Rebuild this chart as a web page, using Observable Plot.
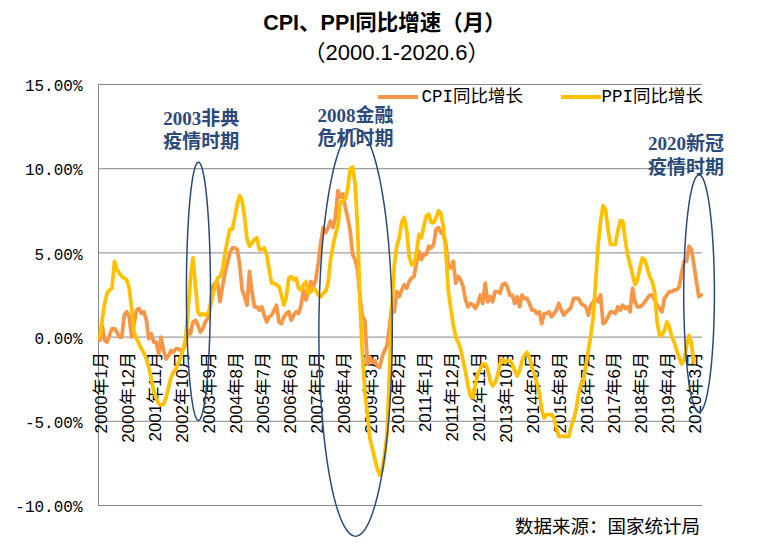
<!DOCTYPE html>
<html><head><meta charset="utf-8">
<script src="https://cdn.jsdelivr.net/npm/d3@7"></script>
<script src="https://cdn.jsdelivr.net/npm/@observablehq/plot@0.6"></script>
<style>
body{margin:0;background:#fff;}
#wrap{position:relative;width:769px;height:548px;overflow:hidden;background:#fff;font-family:"Liberation Sans","Noto Sans CJK SC",sans-serif;color:#000;}
#chart{position:absolute;left:0;top:0;}
.abs{position:absolute;white-space:nowrap;}
#title{left:0;width:769px;text-align:center;top:9px;font-size:21.5px;font-weight:bold;line-height:28px;}
#subtitle{left:12px;width:769px;text-align:center;top:39px;font-size:22px;line-height:28px;}
.leg-line{position:absolute;height:0;border-top:4px solid;}
.leg-text{font-family:"Liberation Mono","Noto Sans CJK SC",monospace;font-size:17.5px;line-height:22px;}
#source{left:515px;top:513px;font-family:"Noto Sans CJK SC",sans-serif;font-size:18.5px;line-height:24px;}
</style></head>
<body><div id="wrap">
<div id="chart"></div>
<div id="title" class="abs">CPI、PPI同比增速（月）</div>
<div id="subtitle" class="abs">（2000.1-2020.6）</div>
<div id="legend"></div>
<div id="source" class="abs">数据来源：国家统计局</div>
</div>
<script>
// CPI year-on-year, monthly, 2000.1 - 2020.6 (%)
const cpi = [
 -0.2, 0.7,-0.2,-0.3, 0.1, 0.5, 0.5, 0.3, 0.0, 0.0, 1.3, 1.5,
  1.2, 0.0, 0.8, 1.6, 1.7, 1.4, 1.5, 1.0,-0.1, 0.2,-0.3,-0.3,
 -1.0, 0.0,-0.8,-1.3,-1.1,-0.8,-0.9,-0.7,-0.7,-0.8,-0.7,-0.4,
  0.4, 0.2, 0.9, 1.0, 0.7, 0.3, 0.5, 0.9, 1.1, 1.8, 3.0, 3.2,
  3.2, 2.1, 3.0, 3.8, 4.4, 5.0, 5.3, 5.3, 5.2, 4.3, 2.8, 2.4,
  1.9, 3.9, 2.7, 1.8, 1.8, 1.6, 1.8, 1.3, 0.9, 1.2, 1.3, 1.6,
  1.9, 0.9, 0.8, 1.2, 1.4, 1.5, 1.0, 1.3, 1.5, 1.4, 1.9, 2.8,
  2.2, 2.7, 3.3, 3.0, 3.4, 4.4, 5.6, 6.5, 6.2, 6.5, 6.9, 6.5,
  7.1, 8.7, 8.3, 8.5, 7.7, 7.1, 6.3, 4.9, 4.6, 4.0, 2.4, 1.2,
  1.0,-1.6,-1.2,-1.5,-1.4,-1.7,-1.8,-1.2,-0.8,-0.5, 0.6, 1.9,
  1.5, 2.7, 2.4, 2.8, 3.1, 2.9, 3.3, 3.5, 3.6, 4.4, 5.1, 4.6,
  4.9, 4.9, 5.4, 5.3, 5.5, 6.4, 6.5, 6.2, 6.1, 5.5, 4.2, 4.1,
  4.5, 3.2, 3.6, 3.4, 3.0, 2.2, 1.8, 2.0, 1.9, 1.7, 2.0, 2.5,
  2.0, 3.2, 2.1, 2.4, 2.1, 2.7, 2.7, 2.6, 3.1, 3.2, 3.0, 2.5,
  2.5, 2.0, 2.4, 1.8, 2.5, 2.3, 2.3, 2.0, 1.6, 1.6, 1.4, 1.5,
  0.8, 1.4, 1.4, 1.5, 1.2, 1.4, 1.6, 2.0, 1.6, 1.3, 1.5, 1.6,
  1.8, 2.3, 2.3, 2.3, 2.0, 1.9, 1.8, 1.3, 1.9, 2.1, 2.3, 2.1,
  2.5, 0.8, 0.9, 1.2, 1.5, 1.5, 1.4, 1.8, 1.6, 1.9, 1.7, 1.8,
  1.5, 2.9, 2.1, 1.8, 1.8, 1.9, 2.1, 2.3, 2.5, 2.5, 2.2, 1.9,
  1.7, 1.5, 2.3, 2.5, 2.7, 2.7, 2.8, 2.8, 3.0, 3.8, 4.5, 4.5,
  5.4, 5.2, 4.3, 3.3, 2.4, 2.5
];
// PPI year-on-year, monthly, 2000.1 - 2020.3 (%)
const ppi = [
  0.0, 1.0, 2.0, 2.6, 2.8, 2.9, 4.5, 4.0, 3.8, 3.6, 3.5, 3.4,
  2.9, 1.7, 0.3,-0.1,-0.4,-0.7,-0.95,-1.3,-1.8,-2.5,-3.2,-3.6,
 -3.95,-4.05,-4.0,-3.6,-3.0,-2.4,-2.1,-1.9,-1.55,-1.2,-0.7,-0.1,
  1.6, 3.6, 4.7, 3.0, 1.5, 1.3, 1.4, 1.3, 1.4, 1.8, 2.5, 3.0,
  3.5, 3.6, 4.0, 5.0, 5.7, 6.4, 6.4, 7.1, 7.9, 8.4, 8.1, 7.1,
  5.8, 5.4, 5.6, 5.8, 5.9, 5.2, 5.2, 5.3, 4.9, 4.0, 3.2, 3.2,
  3.1, 3.0, 2.5, 1.9, 2.4, 3.5, 3.6, 3.4, 3.5, 2.9, 2.8, 3.1,
  3.3, 2.6, 2.7, 2.9, 2.8, 2.5, 2.4, 2.6, 2.7, 3.2, 4.6, 5.4,
  6.1, 6.6, 8.0, 8.1, 8.2, 8.8,10.0,10.1, 9.1, 6.6, 2.0,-1.1,
 -3.3,-4.5,-6.0,-6.6,-7.2,-7.8,-8.2,-7.9,-7.0,-5.8,-2.1, 1.7,
  4.3, 5.4, 5.9, 6.8, 7.1, 6.4, 4.8, 4.3, 4.3, 5.0, 6.1, 5.9,
  6.6, 7.2, 7.3, 6.8, 6.8, 7.1, 7.5, 7.3, 6.5, 5.0, 2.7, 1.7,
  0.7, 0.0,-0.3,-0.7,-1.4,-2.1,-2.9,-3.5,-3.6,-2.8,-2.2,-1.9,
 -1.6,-1.6,-1.9,-2.6,-2.9,-2.7,-2.3,-1.6,-1.3,-1.5,-1.4,-1.4,
 -1.6,-2.0,-2.3,-2.0,-1.4,-1.1,-0.9,-1.2,-1.8,-2.2,-2.7,-3.3,
 -4.3,-4.8,-4.6,-4.6,-4.6,-4.8,-5.4,-5.9,-5.9,-5.9,-5.9,-5.9,
 -5.3,-4.9,-4.3,-3.4,-2.8,-2.6,-1.7,-0.8, 0.1, 1.2, 3.3, 5.5,
  6.9, 7.8, 7.6, 6.4, 5.5, 5.5, 5.5, 6.3, 6.9, 6.9, 5.8, 4.9,
  4.3, 3.7, 3.1, 3.4, 4.1, 4.7, 4.6, 4.1, 3.6, 3.3, 2.7, 0.9,
  0.1, 0.1, 0.4, 0.9, 0.6, 0.0,-0.3,-0.8,-1.2,-1.6,-1.4,-0.5,
  0.1,-0.4,-1.5
];
const seriesNames = ["CPI同比增长", "PPI同比增长"];
const seriesColors = ["#F79646", "#FFC000"];
const yTicks = [-10, -5, 0, 5, 10, 15];
const xTickLabels = ["2000年1月","2000年12月","2001年11月","2002年10月","2003年9月","2004年8月","2005年7月","2006年6月","2007年5月","2008年4月","2009年3月","2010年2月","2011年1月","2011年12月","2012年11月","2013年10月","2014年9月","2015年8月","2016年7月","2017年6月","2018年5月","2019年4月","2020年3月"];
// annotations (month index from 2000.1, value in %)
const annotTexts = ["2003非典\n疫情时期", "2008金融\n危机时期", "2020新冠\n疫情时期"];
const annotMonth = [41.3, 104.2, 238.8];
const annotValue = [12.37, 12.55, 10.85];
const ellipseMonth = [40.2, 104.2, 244.1];
const ellipseValue = [2.72, 0.28, 2.59];
const ellipseHalfMonths = [4.9, 14.95, 6.25];
const ellipseHalfValue = [7.67, 12.1, 7.05];

const nMonths = cpi.length;
const rows = [
  ...cpi.map((v, i) => ({i, v, s: seriesNames[0]})),
  ...ppi.map((v, i) => ({i, v, s: seriesNames[1]}))
];
const ticks = xTickLabels.map(t => {
  const m = t.match(/(\d+)年(\d+)月/);
  return {i: (+m[1] - 2000) * 12 + (+m[2] - 1), label: t};
});
const ellipsePts = [];
ellipseMonth.forEach((cx, k) => {
  for (let j = 0; j <= 120; j++) {
    const t = j / 120 * 2 * Math.PI;
    ellipsePts.push({k, x: cx + ellipseHalfMonths[k] * Math.cos(t), y: ellipseValue[k] + ellipseHalfValue[k] * Math.sin(t)});
  }
});
const annots = annotTexts.map((t, k) => ({t, x: annotMonth[k], y: annotValue[k]}));

const navy = "#2B4A7C";
const chart = Plot.plot({
  width: 769, height: 548,
  marginLeft: 98, marginRight: 67, marginTop: 84, marginBottom: 43,
  x: {domain: [-0.5, nMonths - 0.5], axis: null},
  y: {domain: [-10, 15]},
  style: {background: "transparent", overflow: "visible"},
  marks: [
    Plot.ruleY(yTicks, {stroke: "#878787", strokeWidth: 1}),
    Plot.ruleX([-0.5], {y1: -10, y2: 15, stroke: "#878787", strokeWidth: 1}),
    Plot.axisY({ticks: yTicks, tickSize: 0, tickPadding: 16, label: null,
      tickFormat: d => d.toFixed(2) + "%", fontSize: 16, dy: 1.5,
      fontFamily: "'Liberation Mono', monospace", fill: "#000"}),
    Plot.text(ticks, {x: "i", y: () => 0, text: "label", rotate: -90, textAnchor: "end",
      lineAnchor: "middle", dy: 15, dx: 1.5, fontSize: 17, fill: "#000",
      fontFamily: "'Liberation Sans','Noto Sans CJK SC',sans-serif"}),
    Plot.line(rows, {x: "i", y: "v", z: "s", stroke: d => d.s, strokeWidth: 3.75,
      strokeLinejoin: "round", strokeLinecap: "round"}),
    Plot.line(ellipsePts, {x: "x", y: "y", z: "k", stroke: navy, strokeWidth: 1.5}),
    Plot.text(annots, {x: "x", y: "y", text: "t", fill: navy, fontSize: 19, fontWeight: "bold",
      lineHeight: 1.23, lineAnchor: "middle", textAnchor: "middle",
      fontFamily: "'Liberation Serif','Noto Sans CJK SC',serif"})
  ],
  color: {domain: seriesNames, range: seriesColors}
});
document.getElementById("chart").appendChild(chart);

// legend
const legend = document.getElementById("legend");
const legPos = [{line: 378, text: 421.5}, {line: 561, text: 601.5}];
seriesNames.forEach((name, k) => {
  const ln = document.createElement("div");
  ln.className = "leg-line";
  ln.style.left = legPos[k].line + "px";
  ln.style.top = "95px";
  ln.style.width = "40px";
  ln.style.borderTopColor = seriesColors[k];
  legend.appendChild(ln);
  const tx = document.createElement("div");
  tx.className = "abs leg-text";
  tx.style.left = legPos[k].text + "px";
  tx.style.top = "86px";
  tx.textContent = name;
  legend.appendChild(tx);
});
</script>
</body></html>
